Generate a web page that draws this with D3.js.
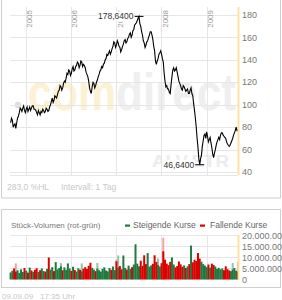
<!DOCTYPE html>
<html><head><meta charset="utf-8">
<script src="https://cdn.jsdelivr.net/npm/d3@7"></script>
<style>body{margin:0;background:#fff;} svg{display:block;font-family:"Liberation Sans",Arial,sans-serif;}</style>
</head><body><svg id="c" width="282" height="300"></svg>
<script>
// ---- data ----
const startDate = "2004-09-01";
const priceStepDays = 7;
const volStepDays = 14;
const prices = [
 84,88, 86,80, 82,83, 79,84, 88,90, 93,97, 96,94, 97,99, 95,93, 96,98,
 94,96, 98,95, 97,99, 99,96, 96,95, 93,91, 95,93, 91,94, 93,96, 95,93,
 94,97, 96,94, 95,98, 100,103, 106,102, 104,108, 107,106, 109,112, 113,117, 116,113,
 115,119, 121,120, 124,128, 127,131, 130,126, 128,132, 134,130, 131,134, 135,138, 137,133,
 135,139, 138,134, 136,135, 133,129, 127,125, 121,115, 112,110, 116,120, 119,115, 117,120,
 122,125, 127,130, 131,134, 133,136, 137,140, 141,145, 144,146, 148,145, 147,150, 152,156,
 155,151, 153,157, 155,152, 151,147, 149,152, 154,157, 158,155, 156,159, 160,163, 164,160,
 162,166, 167,171, 172,173, 175,177, 178.64,172, 170,165, 162,157, 155,151, 153,156, 157,160,
 162,165, 165,162, 158,152, 148,139, 136,139, 141,145, 146,148, 145,141, 138,128, 121,116,
 117,114, 114,111, 110,118, 125,131, 133,130, 131,133, 129,125, 121,119, 117,114, 113,117,
 116,114, 112,113, 114,110, 110,113, 115,110, 108,101, 95,88, 80,70, 62,52, 46.64,52,
 55,63, 68,73, 74,70, 76,72, 67,69, 71,66, 62,56, 53,57, 60,64, 67,69,
 71,69, 73,75, 75,73, 72,71, 70,67, 65,64, 63,64, 66,68, 70,73, 75,77,
 80,77, 78];
const volumes = [3.2,4.0,5.0,3.6,4.2,3.0,4.6,3.4,5.2,4.0,
 3.1,5.4,4.1,3.5,4.4,5.1,3.4,4.2,5.0,3.8,
 3.6,4.8,10.0,4.5,5.6,3.8,7.9,4.6,5.2,6.0,
 4.2,5.5,4.4,7.3,5.0,3.9,5.8,4.3,3.6,5.1,
 4.4,3.7,4.9,5.6,4.8,6.2,7.6,5.3,4.5,3.8,
 5.0,4.2,3.6,4.8,5.5,4.1,3.7,5.2,4.4,5.9,
 4.3,8.3,5.4,6.1,4.6,10.9,5.2,4.5,6.3,4.8,
 5.6,6.8,16.0,7.2,6.0,8.5,6.2,11.0,7.0,12.0,
 5.8,6.4,7.1,11.0,8.0,6.6,5.9,7.4,12.8,9.0,
 7.2,6.5,8.0,10.0,6.8,5.5,6.1,8.2,6.9,5.8,
 6.4,5.2,6.0,7.0,15.4,7.8,9.0,8.4,12.0,9.5,
 8.1,7.0,6.3,5.6,6.8,5.4,7.2,6.6,5.9,4.8,
 5.3,4.6,5.0,4.2,6.0,4.7,4.1,3.8,4.5,5.2,
 4.0,3.6];
const volPeakIdx = [3,29,41,50,61,62,85,88,128,131];
const volPeakVal = [7.3,7.5,7.3,7.5,9.0,10.9,9.5,19.0,7.5,8.0];
const yearTicks = [2005,2006,2007,2008,2009];
const priceTicks = [40,60,80,100,120,140,160,180];
const volTicks = [0,5,10,15,20];
const volTickLabels = ["0","5.000.000","10.000.000","15.000.000","20.000.000"];
const maxLabel = "178,6400";
const minLabel = "46,6400";

// ---- setup ----
const svg = d3.select("#c");
const parse = d3.timeParse("%Y-%m-%d");
const t0 = parse(startDate);
const dates = prices.map((_, i) => d3.timeDay.offset(t0, i * priceStepDays));
const volDates = volumes.map((_, i) => d3.timeDay.offset(t0, i * volStepDays));
const x = d3.scaleTime().domain([parse("2004-08-27"), parse("2009-09-10")]).range([10, 238]);
const y = d3.scaleLinear().domain([37.5, 187]).range([175, 7]);
const yv = d3.scaleLinear().domain([0, 20.2]).range([279.5, 235]);

// panels
svg.append("rect").attr("x",1.5).attr("y",-1).attr("width",279).attr("height",199)
  .attr("fill","none").attr("stroke","#cfcfcf");
svg.append("rect").attr("x",1.5).attr("y",209.5).attr("width",279).attr("height",78)
  .attr("fill","none").attr("stroke","#cfcfcf");

// watermark
svg.append("circle").attr("cx",18).attr("cy",105).attr("r",3.2).attr("fill","#dedede");
svg.append("text").attr("x",28).attr("y",110).attr("font-size",52).attr("font-weight","bold")
  .attr("fill","#fdf1d4").attr("textLength",88).attr("lengthAdjust","spacingAndGlyphs").text("com");
svg.append("text").attr("x",116).attr("y",110).attr("font-size",52).attr("font-weight","bold")
  .attr("fill","#efefef").attr("textLength",120).attr("lengthAdjust","spacingAndGlyphs").text("direct");
svg.append("text").attr("x",152).attr("y",167).attr("font-size",17).attr("font-weight","bold")
  .attr("fill","#ececec").attr("textLength",77).attr("lengthAdjust","spacingAndGlyphs").text("ALV.ETR");

// grid main
const g = svg.append("g");
g.selectAll(".hg").data(priceTicks).join("line")
  .attr("x1",10).attr("x2",238).attr("y1",d=>Math.round(y(d))+0.5).attr("y2",d=>Math.round(y(d))+0.5)
  .attr("stroke","#e6e6e6");
g.append("line").attr("x1",10).attr("x2",238).attr("y1",175.5).attr("y2",175.5).attr("stroke","#e6e6e6");
g.selectAll(".vg").data(yearTicks).join("line")
  .attr("x1",d=>Math.round(x(new Date(d,0,1)))+0.5).attr("x2",d=>Math.round(x(new Date(d,0,1)))+0.5)
  .attr("y1",7).attr("y2",175).attr("stroke","#e6e6e6");
g.selectAll(".yl").data(yearTicks).join("text")
  .attr("transform",d=>`translate(${x(new Date(d,0,1))+6.5},10) rotate(-90)`)
  .attr("text-anchor","end").attr("font-size",8).attr("fill","#999").text(d=>d);

// price line
const line = d3.line().x((d,i)=>x(dates[i])).y(d=>y(d));
svg.append("path").datum(prices).attr("d",line).attr("fill","none").attr("stroke","#000").attr("stroke-width",1.1);

// max / min markers
function marker(idx, label) {
  const px = x(dates[idx]), py = y(prices[idx]);
  svg.append("line").attr("x1",px-4.5).attr("x2",px+4.5).attr("y1",py).attr("y2",py).attr("stroke","#000");
  const tx = svg.append("text").attr("x",px-5.5).attr("y",py+3).attr("text-anchor","end")
    .attr("font-size",8.5).attr("fill","#333").text(label);
  const bb = tx.node().getBBox();
  svg.insert("rect", () => tx.node()).attr("x",bb.x-1).attr("y",bb.y).attr("width",bb.width+1.5).attr("height",bb.height).attr("fill","#fff");
}
marker(d3.maxIndex(prices), maxLabel);
marker(d3.minIndex(prices), minLabel);

// y axis main
svg.append("line").attr("x1",238.5).attr("x2",238.5).attr("y1",7).attr("y2",175).attr("stroke","#fbe2a2").attr("stroke-width",2);
svg.selectAll(".pt").data(priceTicks).join("text")
  .attr("x",242).attr("y",d=>y(d)+3.2).attr("font-size",9).attr("fill","#777").text(d=>d);

// footer texts main
svg.append("text").attr("x",7).attr("y",190).attr("font-size",8.5).attr("fill","#c8c8c8").text("283,0 %HL");
svg.append("text").attr("x",61).attr("y",190).attr("font-size",8.5).attr("fill","#c8c8c8").text("Intervall: 1 Tag");

// volume panel
svg.append("text").attr("x",11).attr("y",228).attr("font-size",8).attr("fill","#777").text("Stück-Volumen (rot-grün)");
svg.append("rect").attr("x",125).attr("y",224.5).attr("width",5).attr("height",2.2).attr("fill","#1f7a3f");
svg.append("text").attr("x",133).attr("y",228).attr("font-size",8.5).attr("fill","#666").text("Steigende Kurse");
svg.append("rect").attr("x",200).attr("y",224.5).attr("width",5).attr("height",2.2).attr("fill","#dd0000");
svg.append("text").attr("x",210).attr("y",228).attr("font-size",8.5).attr("fill","#666").text("Fallende Kurse");

const gv = svg.append("g");
gv.selectAll(".vh").data(volTicks.slice(1)).join("line")
  .attr("x1",10).attr("x2",238).attr("y1",d=>Math.round(yv(d))+0.5).attr("y2",d=>Math.round(yv(d))+0.5).attr("stroke","#e6e6e6");
gv.selectAll(".vv").data(yearTicks).join("line")
  .attr("x1",d=>Math.round(x(new Date(d,0,1)))+0.5).attr("x2",d=>Math.round(x(new Date(d,0,1)))+0.5)
  .attr("y1",235).attr("y2",280).attr("stroke","#e6e6e6");

// direction of each volume period: compare the price at its date with the previous period's
const up = i => i === 0 || prices[2*i] >= prices[2*i-2];
const bw = 2.0;
gv.selectAll(".pk").data(volPeakIdx).join("rect")
  .attr("x",(d)=>x(volDates[d])-bw/2).attr("width",bw)
  .attr("y",(d,k)=>yv(volPeakVal[k])).attr("height",(d,k)=>yv(0)-yv(volPeakVal[k]))
  .attr("fill",d=>up(d)?"#93c4a3":"#f0a3a3");
gv.selectAll(".vb").data(volumes).join("rect")
  .attr("x",(d,i)=>x(volDates[i])-bw/2).attr("width",bw)
  .attr("y",d=>yv(d)).attr("height",d=>yv(0)-yv(d))
  .attr("fill",(d,i)=>up(i)?"#1f7a3f":"#dd0000");

svg.append("line").attr("x1",238.5).attr("x2",238.5).attr("y1",235).attr("y2",280).attr("stroke","#fbe2a2").attr("stroke-width",2);
svg.selectAll(".vt").data(volTicks).join("text")
  .attr("x",242).attr("y",d=>yv(d)+3.2).attr("font-size",9).attr("fill","#777").text((d,i)=>volTickLabels[i]);

svg.append("text").attr("x",2).attr("y",299).attr("font-size",8).attr("fill","#c8c8c8").text("09.09.09");
svg.append("text").attr("x",40).attr("y",299).attr("font-size",8).attr("fill","#c8c8c8").text("17:35 Uhr");
</script></body></html>
